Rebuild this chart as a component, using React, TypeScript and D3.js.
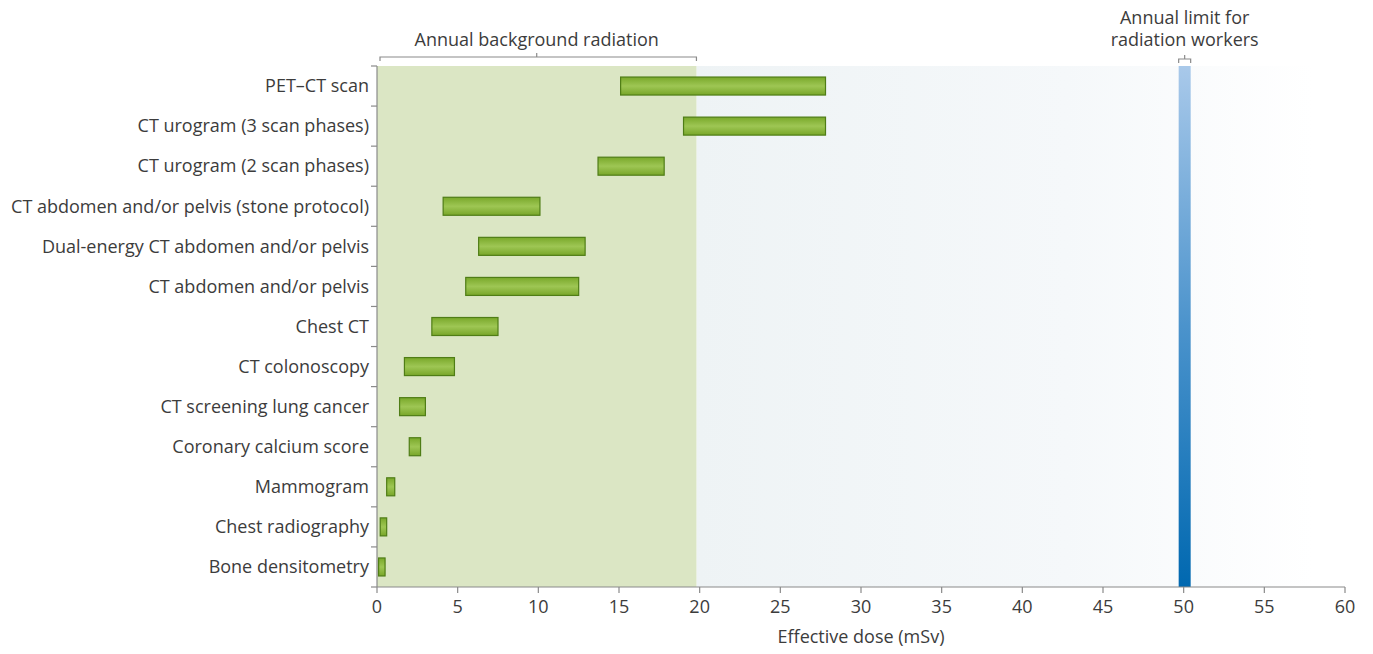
import React from "react";
import * as d3 from "d3";

const categories = [
  "PET–CT scan",
  "CT urogram (3 scan phases)",
  "CT urogram (2 scan phases)",
  "CT abdomen and/or pelvis (stone protocol)",
  "Dual-energy CT abdomen and/or pelvis",
  "CT abdomen and/or pelvis",
  "Chest CT",
  "CT colonoscopy",
  "CT screening lung cancer",
  "Coronary calcium score",
  "Mammogram",
  "Chest radiography",
  "Bone densitometry",
];
const doseLow = [15.1, 19.0, 13.7, 4.1, 6.3, 5.5, 3.4, 1.7, 1.4, 2.0, 0.6, 0.2, 0.1];
const doseHigh = [27.8, 27.8, 17.8, 10.1, 12.9, 12.5, 7.5, 4.8, 3.0, 2.7, 1.1, 0.6, 0.5];
const xTicks = [0, 5, 10, 15, 20, 25, 30, 35, 40, 45, 50, 55, 60];
const backgroundLimit = 19.8;
const workerLimit = 50;

export default function App() {
  const W = 1373, H = 654;
  const left = 377, right = 1345, top = 66, bottom = 587;
  const x = d3.scaleLinear().domain([0, 60]).range([left, right]);
  const y = d3.scaleBand<string>().domain(categories).range([top, bottom]);
  const font = "'Open Sans', sans-serif";
  const textColor = "#3c3c3c";
  const axisColor = "#8a8a8a";
  const fs = 18;
  const barH = 18;
  const bgMid = (x(0) + x(backgroundLimit)) / 2;
  const wx0 = x(workerLimit) - 5, wx1 = x(workerLimit) + 7;
  const wMid = (wx0 + wx1) / 2;

  return (
    <svg width={W} height={H} style={{ position: "absolute", left: 0, top: 0 }} fontFamily={font}>
      <defs>
        <linearGradient id="rightBg" x1="0" x2="1" y1="0" y2="0">
          <stop offset="0" stopColor="#eef3f5" />
          <stop offset="0.6" stopColor="#f5f8fa" />
          <stop offset="1" stopColor="#ffffff" />
        </linearGradient>
        <linearGradient id="workerGrad" x1="0" x2="0" y1="0" y2="1">
          <stop offset="0" stopColor="#a9c9ea" />
          <stop offset="0.5" stopColor="#4b93cc" />
          <stop offset="1" stopColor="#0068b0" />
        </linearGradient>
        <linearGradient id="barGrad" x1="0" x2="0" y1="0" y2="1">
          <stop offset="0" stopColor="#79a82a" />
          <stop offset="0.5" stopColor="#9ec654" />
          <stop offset="1" stopColor="#78a629" />
        </linearGradient>
      </defs>
      <rect x={x(backgroundLimit)} y={top} width={x(58) - x(backgroundLimit)} height={bottom - top} fill="url(#rightBg)" />
      <rect x={x(0)} y={top} width={x(backgroundLimit) - x(0)} height={bottom - top} fill="#dbe6c4" />
      <rect x={wx0} y={top} width={wx1 - wx0} height={bottom - top} fill="url(#workerGrad)" />

      {/* bracket: background */}
      <path d={`M${x(0) + 3},${top - 5} V${top - 9} H${x(backgroundLimit)} V${top - 5} M${bgMid},${top - 9} V${top - 13}`} fill="none" stroke={axisColor} strokeWidth={1.2} />
      <text x={bgMid} y={46} textAnchor="middle" fontSize={fs} fill={textColor}>Annual background radiation</text>

      {/* bracket: workers */}
      <path d={`M${wx0},${top - 3} V${top - 7} H${wx1} V${top - 3} M${wMid},${top - 7} V${top - 11}`} fill="none" stroke={axisColor} strokeWidth={1.2} />
      <text x={wMid} y={24} textAnchor="middle" fontSize={fs} fill={textColor}>Annual limit for</text>
      <text x={wMid} y={46} textAnchor="middle" fontSize={fs} fill={textColor}>radiation workers</text>

      {/* bars */}
      {categories.map((c, i) => (
        <rect key={c} x={x(doseLow[i])} y={y(c)! + y.bandwidth() / 2 - barH / 2}
          width={x(doseHigh[i]) - x(doseLow[i])} height={barH}
          fill="url(#barGrad)" stroke="#4f7d16" strokeWidth={1.2} />
      ))}

      {/* y axis */}
      <line x1={left} x2={left} y1={top} y2={bottom} stroke={axisColor} strokeWidth={1.2} />
      {d3.range(categories.length + 1).map(i => {
        const yy = top + i * y.step();
        return <line key={i} x1={left - 6} x2={left} y1={yy} y2={yy} stroke={axisColor} strokeWidth={1.2} />;
      })}
      {categories.map(c => (
        <text key={c} x={left - 8} y={y(c)! + y.bandwidth() / 2} dy="0.35em" textAnchor="end" fontSize={fs} fill={textColor}>{c}</text>
      ))}

      {/* x axis */}
      <line x1={left} x2={right} y1={bottom} y2={bottom} stroke={axisColor} strokeWidth={1.2} />
      {xTicks.map(t => (
        <g key={t}>
          <line x1={x(t)} x2={x(t)} y1={bottom} y2={bottom + 6} stroke={axisColor} strokeWidth={1.2} />
          <text x={x(t)} y={bottom + 26} textAnchor="middle" fontSize={fs} fill={textColor}>{t}</text>
        </g>
      ))}
      <text x={(left + right) / 2} y={643} textAnchor="middle" fontSize={fs} fill={textColor}>Effective dose (mSv)</text>
    </svg>
  );
}
